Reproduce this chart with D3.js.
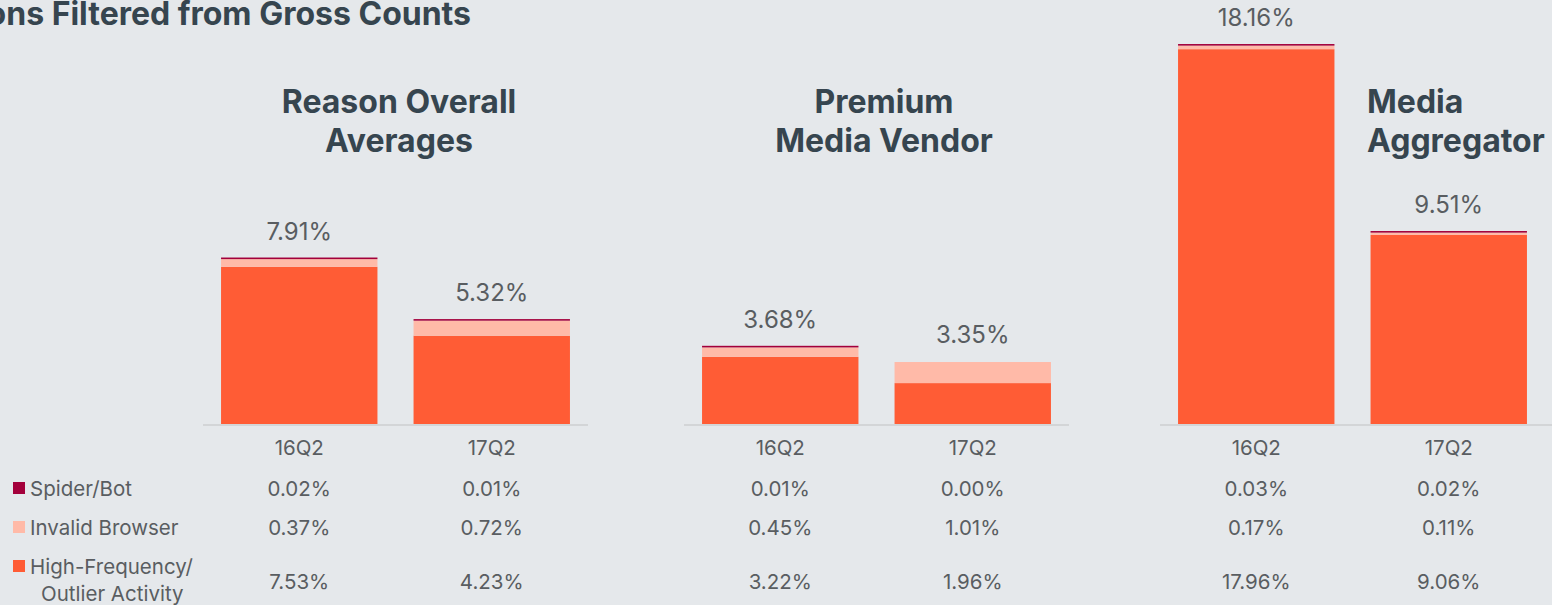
<!DOCTYPE html>
<html>
<head>
<meta charset="utf-8">
<script src="https://cdn.jsdelivr.net/npm/d3@7"></script>
<style>
  html, body { margin: 0; padding: 0; background: #e5e8eb; overflow: hidden; }
  text { font-family: Inter, "Noto Sans", sans-serif; }
</style>
</head>
<body>
<div id="chart"></div>
<script>
// data
var groups = [["Reason Overall", "Averages"], ["Premium", "Media Vendor"], ["Media", "Aggregator"]];
var quarters = ["16Q2", "17Q2"];
var series_names = ["Spider/Bot", "Invalid Browser", "High-Frequency/ Outlier Activity"];
var high_freq = [[7.53, 4.23], [3.22, 1.96], [17.96, 9.06]];
var invalid_browser = [[0.37, 0.72], [0.45, 1.01], [0.17, 0.11]];
var spider_bot = [[0.02, 0.01], [0.01, 0.00], [0.03, 0.02]];
var totals = [[7.91, 5.32], [3.68, 3.35], [18.16, 9.51]];

// svg properties
var width = 1552;
var height = 605;
var panel_x = [203, 684, 1160];
var panel_w = 385;
var title_x = [399, 884, 1367];
var baseline = 424;
var colors = ["#a3003b", "#ffbaa8", "#ff5c35"];
var dark = "#36454f";
var grey = "#595d61";
var small_size = 20.5;

var svg = d3.select("#chart")
            .append("svg")
            .attr("width", width)
            .attr("height", height);

var scale_y = d3.scaleLinear()
            .domain([0, 18.16])
            .range([baseline, 45]);

// chart title (cut off at the left edge like the source)
svg.append("text")
    .text("Impressions Filtered from Gross Counts")
    .attr("x", 471)
    .attr("y", 25)
    .attr("text-anchor", "end")
    .attr("font-size", 32)
    .attr("font-weight", 700)
    .attr("fill", dark);

groups.forEach(function(g, gi) {
    var x0 = panel_x[gi];
    var scale_x = d3.scaleBand()
                .domain(quarters)
                .range([x0, x0 + panel_w])
                .paddingInner(0.1875)
                .paddingOuter(0.09375);

    var panel = svg.append("g");

    // stacked layers: high freq at bottom, then invalid, then spider
    var rows = quarters.map(function(q, i) {
        return {q: q, hf: high_freq[gi][i], ib: invalid_browser[gi][i], sb: spider_bot[gi][i]};
    });
    var stack = d3.stack().keys(["hf", "ib", "sb"])(rows);
    var layer_color = {hf: colors[2], ib: colors[1], sb: colors[0]};

    stack.forEach(function(layer) {
        // spider/bot slices are thinner than a pixel, keep them visible
        function bar_h(d) {
            var h = scale_y(d[0]) - scale_y(d[1]);
            if (layer.key == "sb" && d[1] > d[0]) h = Math.max(h, 1.6);
            return h;
        }
        panel.selectAll(null)
            .data(layer)
            .enter()
            .append("rect")
            .attr("x", function(d) { return scale_x(d.data.q); })
            .attr("width", scale_x.bandwidth())
            .attr("y", function(d) { return scale_y(d[0]) - bar_h(d); })
            .attr("height", bar_h)
            .attr("fill", layer_color[layer.key]);
    });

    // axis line
    panel.append("line")
        .attr("x1", x0).attr("x2", gi == 2 ? width : x0 + panel_w)
        .attr("y1", baseline + 1).attr("y2", baseline + 1)
        .attr("stroke", "#d3d5d7")
        .attr("stroke-width", 2);

    // total labels
    panel.selectAll(null)
        .data(rows)
        .enter()
        .append("text")
        .text(function(d, i) { return totals[gi][i].toFixed(2) + "%"; })
        .attr("x", function(d) { return scale_x(d.q) + scale_x.bandwidth() / 2; })
        .attr("y", function(d) { return scale_y(d.hf + d.ib + d.sb) - 19; })
        .attr("text-anchor", "middle")
        .attr("font-size", 24)
        .attr("fill", grey);

    // category labels
    panel.selectAll(null)
        .data(quarters)
        .enter()
        .append("text")
        .text(function(d) { return d; })
        .attr("x", function(d) { return scale_x(d) + scale_x.bandwidth() / 2; })
        .attr("y", 455)
        .attr("text-anchor", "middle")
        .attr("font-size", small_size)
        .attr("fill", grey);

    // table values
    var table = [spider_bot[gi], invalid_browser[gi], high_freq[gi]];
    var row_y = [496, 535, 589];
    table.forEach(function(vals, ri) {
        panel.selectAll(null)
            .data(vals)
            .enter()
            .append("text")
            .text(function(d) { return d.toFixed(2) + "%"; })
            .attr("x", function(d, i) { return scale_x(quarters[i]) + scale_x.bandwidth() / 2; })
            .attr("y", row_y[ri])
            .attr("text-anchor", "middle")
            .attr("font-size", small_size)
            .attr("fill", grey);
    });

    // panel title
    var title = panel.append("text")
        .attr("font-size", 32)
        .attr("font-weight", 700)
        .attr("fill", dark)
        .attr("text-anchor", gi == 2 ? "start" : "middle");
    g.forEach(function(line, li) {
        title.append("tspan")
            .text(line)
            .attr("x", title_x[gi])
            .attr("y", 113 + li * 39);
    });
});

// legend
var legend_y = [489, 528, 567];
var legend = svg.append("g");
legend.selectAll("rect")
    .data(series_names)
    .enter()
    .append("rect")
    .attr("x", 13)
    .attr("y", function(d, i) { return legend_y[i] - 7; })
    .attr("width", 12)
    .attr("height", 12)
    .attr("fill", function(d, i) { return colors[i]; });

legend.append("text").text("Spider/Bot")
    .attr("x", 30).attr("y", 496).attr("font-size", small_size).attr("fill", grey);
legend.append("text").text("Invalid Browser")
    .attr("x", 30).attr("y", 535).attr("font-size", small_size).attr("fill", grey);
var hf = legend.append("text").attr("font-size", small_size).attr("fill", grey);
hf.append("tspan").text("High-Frequency/").attr("x", 30).attr("y", 574);
hf.append("tspan").text("Outlier Activity").attr("x", 41).attr("y", 601);
</script>
</body>
</html>
